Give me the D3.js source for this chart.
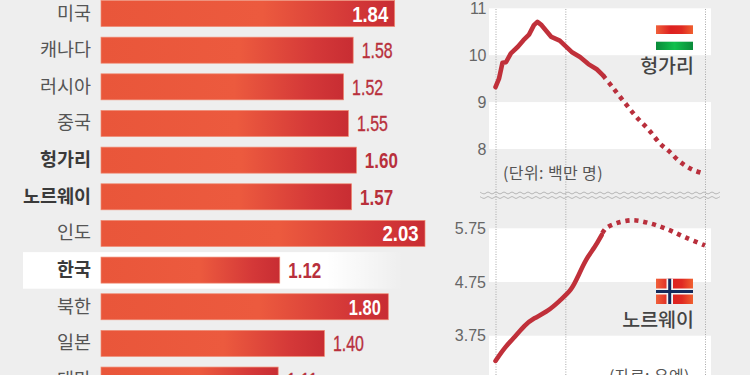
<!DOCTYPE html>
<html><head><meta charset="utf-8">
<style>html,body{margin:0;padding:0;background:#eeeeee;overflow:hidden}svg{display:block}
.cat{font-family:"Noto Sans CJK KR";font-size:18.5px;fill:#555}
.val{font-family:"Liberation Sans";font-size:22px}
.ax text{font-family:"Liberation Sans";font-size:16px;fill:#666}
.note{font-family:"Noto Sans CJK KR";font-size:16px;fill:#555;letter-spacing:.4px}
.cn{font-family:"Noto Sans CJK KR";font-size:19.5px;font-weight:500;fill:#444}
</style></head><body>
<script src="https://cdn.jsdelivr.net/npm/d3@7"></script>
<script>
const countries=["미국","캐나다","러시아","중국","헝가리","노르웨이","인도","한국","북한","일본","대만"];
const rates=[1.84,1.58,1.52,1.55,1.60,1.57,2.03,1.12,1.80,1.40,1.11];
const rateLabels=["1.84","1.58","1.52","1.55","1.60","1.57","2.03","1.12","1.80","1.40","1.11"];
const boldCountries=["헝가리","노르웨이","한국"];
const huYears=[1950,1952.5,1955,1957.5,1961,1966,1970,1974,1977.5,1980,1983,1990,1996,2004.5,2010.5,2016.5,2022.5,2027];
const huValues=[9.32,9.5,9.84,9.85,10.04,10.18,10.32,10.44,10.64,10.71,10.64,10.39,10.31,10.07,9.96,9.81,9.7,9.57];
const huProjYears=[2027,2034,2043,2051,2060,2068,2074,2082,2091,2100];
const huProjValues=[9.57,9.31,8.97,8.68,8.4,8.11,7.96,7.73,7.56,7.47];
const noYears=[1950,1957,1964,1971,1977,1988,1996.5,2004.5,2009,2015,2021,2026];
const noValues=[3.28,3.545,3.73,3.95,4.07,4.21,4.415,4.60,4.85,5.19,5.39,5.625];
const noProjYears=[2026.5,2029,2036,2048,2061,2074,2086,2100];
const noProjValues=[5.66,5.75,5.84,5.90,5.84,5.72,5.58,5.43];
const huTicks=[11,10,9,8];
const noTicks=[5.75,4.75,3.75];
const gridYears=[1950,2000,2100];

const svg=d3.select("body").append("svg").attr("width",750).attr("height",375);
const defs=svg.append("defs");
const g=defs.append("linearGradient").attr("id","bar");
[[0,"#e9563a"],[.55,"#ec5a3e"],[.85,"#d43838"],[1,"#c82d33"]].forEach(s=>g.append("stop").attr("offset",s[0]).attr("stop-color",s[1]));
const hl=defs.append("linearGradient").attr("id","hl");
[[0,"#fff",1],[.8,"#fff",1],[1,"#fff",0]].forEach(s=>hl.append("stop").attr("offset",s[0]).attr("stop-color",s[1]).attr("stop-opacity",s[2]));
const red=defs.append("linearGradient").attr("id","fr");
[[0,"#f0603a"],[.4,"#dd2020"],[.7,"#e02a22"],[1,"#f0602f"]].forEach(s=>red.append("stop").attr("offset",s[0]).attr("stop-color",s[1]));
const grn=defs.append("linearGradient").attr("id","fg");
[[0,"#0a8a3a"],[.5,"#0fc04c"],[1,"#0a8a3a"]].forEach(s=>grn.append("stop").attr("offset",s[0]).attr("stop-color",s[1]));

// bars
const x=d3.scaleLinear().domain([0,2.03]).range([101,425]);
const y=d3.scaleBand().domain(countries).range([0,403.2]).paddingInner(0.29).paddingOuter(0.145);
const rowOf=c=>y(c)-4.8;
svg.append("rect").attr("x",23).attr("y",rowOf("한국")-5).attr("width",380).attr("height",36.6).attr("fill","url(#hl)");
svg.selectAll("rect.bar").data(countries).join("rect").attr("class","bar")
 .attr("x",x(0)).attr("y",c=>rowOf(c)).attr("height",y.bandwidth())
 .attr("width",(c,i)=>x(rates[i])-x(0)).attr("fill","url(#bar)")
 .attr("stroke","#f08a72").attr("stroke-width",.7);
svg.selectAll("text.cat").data(countries).join("text").attr("class","cat")
 .attr("x",91).attr("y",c=>rowOf(c)+y.bandwidth()/2+6)
 .attr("text-anchor","end").attr("font-weight",c=>boldCountries.includes(c)?700:400)
 .style("fill",c=>boldCountries.includes(c)?"#3a3a3a":null).text(c=>c);
const inside=v=>v>=1.8;
svg.selectAll("text.val").data(countries).join("text").attr("class","val")
 .attr("x",(c,i)=>inside(rates[i])?x(rates[i])-(rates[i]===1.8?39.5:42.5):x(rates[i])+8.5)
 .attr("y",c=>rowOf(c)+y.bandwidth()/2+8)
 .attr("fill",(c,i)=>inside(rates[i])?"#fff":"#b8303c")
 .attr("font-weight",(c,i)=>inside(rates[i])||boldCountries.includes(c)?700:400)
 .attr("stroke",(c,i)=>inside(rates[i])||boldCountries.includes(c)?"none":"#b8303c")
 .attr("stroke-width",.35)
 .attr("lengthAdjust","spacingAndGlyphs")
 .attr("textLength",(c,i)=>rates[i]===1.8?32:inside(rates[i])?36:boldCountries.includes(c)?33:31)
 .text((c,i)=>rateLabels[i]);

// line panels
const tx=d3.scaleLinear().domain([1950,2100]).range([495.5,705]);
const yHu=d3.scaleLinear().domain([8,11]).range([149,8.3]);
const yNo=d3.scaleLinear().domain([3.75,5.75]).range([335.7,228.3]);
const band=(a,b)=>svg.append("rect").attr("x",489).attr("width",222).attr("y",a).attr("height",b-a).attr("fill","#fff");
band(yHu(11),yHu(10));band(yHu(9),yHu(8));band(yNo(5.75),yNo(4.75));band(yNo(3.75),375);
svg.selectAll("line.grid").data(gridYears).join("line").attr("class","grid")
 .attr("x1",d=>tx(d)+.5).attr("x2",d=>tx(d)+.5).attr("y1",9).attr("y2",375)
 .attr("stroke","#a9a9a9").attr("stroke-width",1).attr("stroke-dasharray","1 1.5");
const axH=svg.append("g").attr("class","ax").attr("transform","translate(486.5,0)")
 .call(d3.axisLeft(yHu).tickValues(huTicks).tickSize(0).tickPadding(0).tickFormat(d3.format("d")));
const axN=svg.append("g").attr("class","ax").attr("transform","translate(486,0)")
 .call(d3.axisLeft(yNo).tickValues(noTicks).tickSize(0).tickPadding(0).tickFormat(d3.format(".2f")));
axH.select(".domain").remove();axN.select(".domain").remove();

// axis break
const wave=d3.line().x(d=>d).curve(d3.curveCardinal);
[193,197.5].forEach(b=>svg.append("path")
 .attr("d",wave.y(d=>b+((Math.round((d-480)/4))%2?.9:-.9))(d3.range(480,721,4)))
 .attr("fill","none").attr("stroke","#b0b0b0").attr("stroke-width",.9));

const drawLine=(xs,vs,sc,dash,curve)=>{
 const l=d3.line().x((d,i)=>tx(xs[i])).y(d=>sc(d)).curve(curve);
 const p=svg.append("path").attr("d",l(vs)).attr("fill","none").attr("stroke","#c0303a").attr("stroke-width",4.6);
 if(dash)p.attr("stroke-dasharray","4.2 4.8").attr("stroke","#b92f3c");
 else p.attr("stroke-linecap","round").attr("stroke-linejoin","round");
};
const cr=d3.curveCatmullRom.alpha(.5);
drawLine(huYears,huValues,yHu,false,d3.curveLinear);
drawLine(huProjYears,huProjValues,yHu,true,cr);
drawLine(noYears,noValues,yNo,false,d3.curveBasis);
drawLine(noProjYears,noProjValues,yNo,true,cr);

// flags
svg.append("rect").attr("x",656).attr("y",25.3).attr("width",37).attr("height",8.7).attr("fill","url(#fr)");
svg.append("rect").attr("x",656).attr("y",41.7).attr("width",37).attr("height",8.3).attr("fill","url(#fg)");
svg.append("rect").attr("x",656).attr("y",278.7).attr("width",37).attr("height",25.3).attr("fill","url(#fr)");
svg.append("rect").attr("x",666.5).attr("y",278.7).attr("width",6.5).attr("height",25.3).attr("fill","#f4f4f4");
svg.append("rect").attr("x",656).attr("y",288.5).attr("width",37).attr("height",6).attr("fill","#f4f4f4");
svg.append("rect").attr("x",668.2).attr("y",278.7).attr("width",3).attr("height",25.3).attr("fill","#142a5c");
svg.append("rect").attr("x",656).attr("y",290).attr("width",37).attr("height",3).attr("fill","#142a5c");

// text
svg.append("text").attr("class","cn").attr("x",694).attr("y",73).attr("text-anchor","end").text("헝가리");
svg.append("text").attr("class","cn").attr("x",694).attr("y",327).attr("text-anchor","end").text("노르웨이");
svg.append("text").attr("class","note").attr("x",503).attr("y",179).text("(단위: 백만 명)");
svg.append("text").attr("class","note").attr("x",609).attr("y",382).text("(자료: 유엔)");
</script></body></html>
